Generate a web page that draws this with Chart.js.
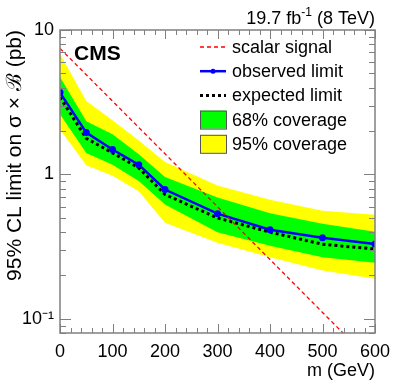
<!DOCTYPE html>
<html>
<head>
<meta charset="utf-8">
<script src="https://cdn.jsdelivr.net/npm/chart.js@4.4.1/dist/chart.umd.min.js"></script>
<style>
  html, body { margin: 0; padding: 0; background: #fff; }
  #wrap { width: 399px; height: 384px; }
</style>
</head>
<body>
<div id="wrap"><canvas id="limitChart"></canvas></div>
<script>
// ---- data ----
var masses        = [0, 50, 100, 150, 200, 300, 400, 500, 600];
var observedLimit = [3.69, 1.95, 1.49, 1.17, 0.787, 0.536, 0.415, 0.365, 0.33];
var expectedLimit = [3.42, 1.78, 1.41, 1.11, 0.727, 0.50, 0.399, 0.329, 0.305];
var band68Up      = [4.72, 2.34, 1.90, 1.38, 0.96, 0.692, 0.54, 0.457, 0.402];
var band68Down    = [2.61, 1.41, 1.17, 0.90, 0.619, 0.399, 0.321, 0.267, 0.245];
var band95Up      = [6.81, 3.23, 2.37, 1.72, 1.22, 0.839, 0.67, 0.562, 0.527];
var band95Down    = [2.05, 1.16, 0.98, 0.766, 0.464, 0.337, 0.267, 0.217, 0.19];
var signalMasses  = [0, 100, 200, 300, 400, 500, 600];
var signalXsec    = [7.46, 3.22, 1.39, 0.598, 0.258, 0.111, 0.048];
var xTickValues   = [0, 100, 200, 300, 400, 500, 600];
var yTickValues   = [0.1, 1, 10];
var legendLabels  = ["scalar signal", "observed limit", "expected limit", "68% coverage", "95% coverage"];

var fontFam = "'Liberation Sans', Arial, Helvetica, sans-serif";

function pts(xs, ys) {
  return xs.map(function (x, i) { return { x: x, y: ys[i] }; });
}

// frame with inward ticks, ROOT style
var rootFrame = {
  id: "rootFrame",
  afterDatasetsDraw: function (chart) {
    var a = chart.chartArea, ctx = chart.ctx;
    var xs = chart.scales.x, ys = chart.scales.y;
    ctx.save();
    ctx.strokeStyle = "#808080";
    ctx.lineWidth = 1.5;
    ctx.strokeRect(a.left, a.top, a.right - a.left, a.bottom - a.top);
    ctx.lineWidth = 1;
    ctx.beginPath();
    for (var m = xs.min; m <= xs.max; m += 20) {
      var px = Math.round(xs.getPixelForValue(m)) + 0.5;
      var len = m % 100 === 0 ? 9 : 5;
      ctx.moveTo(px, a.bottom); ctx.lineTo(px, a.bottom - len);
      ctx.moveTo(px, a.top); ctx.lineTo(px, a.top + len);
    }
    [0.01, 0.1, 1].forEach(function (d) {
      for (var k = 1; k <= 9; k++) {
        var v = k * d;
        if (v < ys.min * 0.999 || v > ys.max * 1.001) continue;
        var py = Math.round(ys.getPixelForValue(v)) + 0.5;
        var l = k === 1 ? 11 : 6;
        ctx.moveTo(a.left, py); ctx.lineTo(a.left + l, py);
        ctx.moveTo(a.right, py); ctx.lineTo(a.right - l, py);
      }
    });
    var tp = Math.round(ys.getPixelForValue(10)) + 0.5;
    ctx.moveTo(a.left, tp); ctx.lineTo(a.left + 11, tp);
    ctx.moveTo(a.right, tp); ctx.lineTo(a.right - 11, tp);
    ctx.stroke();
    ctx.restore();
  },
  afterDraw: function (chart) {
    var ctx = chart.ctx, a = chart.chartArea;
    var ds = chart.data.datasets;
    ctx.save();
    // CMS label
    ctx.fillStyle = "#000";
    ctx.textBaseline = "alphabetic";
    ctx.font = "bold 21px " + fontFam;
    ctx.textAlign = "left";
    ctx.fillText("CMS", 74, 60);
    // luminosity label
    var p1 = "19.7 fb", p3 = " (8 TeV)";
    ctx.font = "12px " + fontFam;
    var w2 = ctx.measureText("-1").width;
    ctx.font = "18px " + fontFam;
    var w1 = ctx.measureText(p1).width, w3 = ctx.measureText(p3).width;
    var x0 = a.right - (w1 + w2 + w3);
    ctx.fillText(p1, x0, 24);
    ctx.fillText(p3, x0 + w1 + w2, 24);
    ctx.font = "12px " + fontFam;
    ctx.fillText("-1", x0 + w1, 16);

    // legend
    var lx = 200, lw = 26, tx = 232, y0 = 47, step = 24.2;
    ctx.font = "18px " + fontFam;
    ctx.textBaseline = "middle";
    legendLabels.forEach(function (lab, i) {
      var y = y0 + i * step;
      ctx.save();
      if (i === 0) {
        ctx.strokeStyle = ds[0].borderColor; ctx.lineWidth = ds[0].borderWidth;
        ctx.setLineDash(ds[0].borderDash);
        ctx.beginPath(); ctx.moveTo(lx, y); ctx.lineTo(lx + lw, y); ctx.stroke();
      } else if (i === 1) {
        ctx.strokeStyle = ds[1].borderColor; ctx.lineWidth = ds[1].borderWidth;
        ctx.beginPath(); ctx.moveTo(lx, y); ctx.lineTo(lx + lw, y); ctx.stroke();
        ctx.fillStyle = ds[1].borderColor;
        ctx.beginPath(); ctx.arc(lx + lw / 2, y, 2.5, 0, Math.PI * 2); ctx.fill();
      } else if (i === 2) {
        ctx.strokeStyle = ds[2].borderColor; ctx.lineWidth = ds[2].borderWidth;
        ctx.setLineDash(ds[2].borderDash);
        ctx.beginPath(); ctx.moveTo(lx, y); ctx.lineTo(lx + lw, y); ctx.stroke();
      } else {
        var d = i === 3 ? ds[3] : ds[5];
        ctx.fillStyle = d.backgroundColor;
        ctx.fillRect(lx, y - 9, lw, 18);
        ctx.strokeStyle = "#555";
        ctx.lineWidth = 1;
        ctx.strokeRect(lx + 0.5, y - 8.5, lw, 18);
      }
      ctx.restore();
      ctx.fillStyle = "#000";
      ctx.fillText(lab, tx, y + 1);
    });
    ctx.restore();
  }
};

document.addEventListener("DOMContentLoaded", function () {
  var ctx = document.getElementById("limitChart");
  new Chart(ctx, {
    type: "line",
    data: {
      datasets: [
        { label: legendLabels[0], data: pts(signalMasses, signalXsec), borderColor: "#ff0000",
          borderWidth: 1.3, borderDash: [4, 3], pointRadius: 0, fill: false, tension: 0 },
        { label: legendLabels[1], data: pts(masses, observedLimit), borderColor: "#0000ff",
          backgroundColor: "#0000ff", borderWidth: 2.5, pointRadius: 3.5, pointBackgroundColor: "#0000ff",
          pointBorderWidth: 0, fill: false, tension: 0 },
        { label: legendLabels[2], data: pts(masses, expectedLimit), borderColor: "#000000",
          borderWidth: 3, borderDash: [3, 3], pointRadius: 0, fill: false, tension: 0 },
        { label: legendLabels[3], data: pts(masses, band68Up), borderWidth: 0, borderColor: "rgba(0,0,0,0)",
          backgroundColor: "#00ff00", pointRadius: 0, fill: "+1", tension: 0 },
        { label: "68 down", data: pts(masses, band68Down), borderWidth: 0, borderColor: "rgba(0,0,0,0)",
          pointRadius: 0, fill: false, tension: 0 },
        { label: legendLabels[4], data: pts(masses, band95Up), borderWidth: 0, borderColor: "rgba(0,0,0,0)",
          backgroundColor: "#ffff00", pointRadius: 0, fill: "+1", tension: 0 },
        { label: "95 down", data: pts(masses, band95Down), borderWidth: 0, borderColor: "rgba(0,0,0,0)",
          pointRadius: 0, fill: false, tension: 0 }
      ]
    },
    options: {
      responsive: true,
      maintainAspectRatio: false,
      animation: false,
      layout: { padding: { top: 30, right: 24, left: 0, bottom: 0 } },
      plugins: { legend: { display: false }, tooltip: { enabled: false } },
      scales: {
        x: {
          type: "linear", min: 0, max: 600,
          afterBuildTicks: function (s) { s.ticks = xTickValues.map(function (v) { return { value: v }; }); },
          afterFit: function (s) { s.height = 51; },
          grid: { display: false, drawTicks: false },
          border: { display: false },
          ticks: { font: { family: fontFam, size: 18 }, color: "#000", padding: 8, maxRotation: 0, autoSkip: false },
          title: { display: true, text: "m (GeV)", align: "end", color: "#000",
                   font: { family: fontFam, size: 18 }, padding: { top: 0, bottom: 2 } }
        },
        y: {
          type: "logarithmic", min: 0.08, max: 10,
          afterBuildTicks: function (s) { s.ticks = yTickValues.map(function (v) { return { value: v }; }); },
          afterFit: function (s) { s.width = 60; },
          grid: { display: false, drawTicks: false },
          border: { display: false },
          ticks: { font: { family: fontFam, size: 18 }, color: "#000", padding: 6,
                   callback: function (v) { return v < 0.5 ? "10\u207B\u00B9" : String(Math.round(v)); } },
          title: { display: true, text: "95% CL limit on \u03C3 \u00D7 \u212C (pb)", align: "end", color: "#000",
                   font: { family: fontFam, size: 21 }, padding: { top: 3, bottom: 0 } }
        }
      }
    },
    plugins: [rootFrame]
  });
});
</script>
</body>
</html>
